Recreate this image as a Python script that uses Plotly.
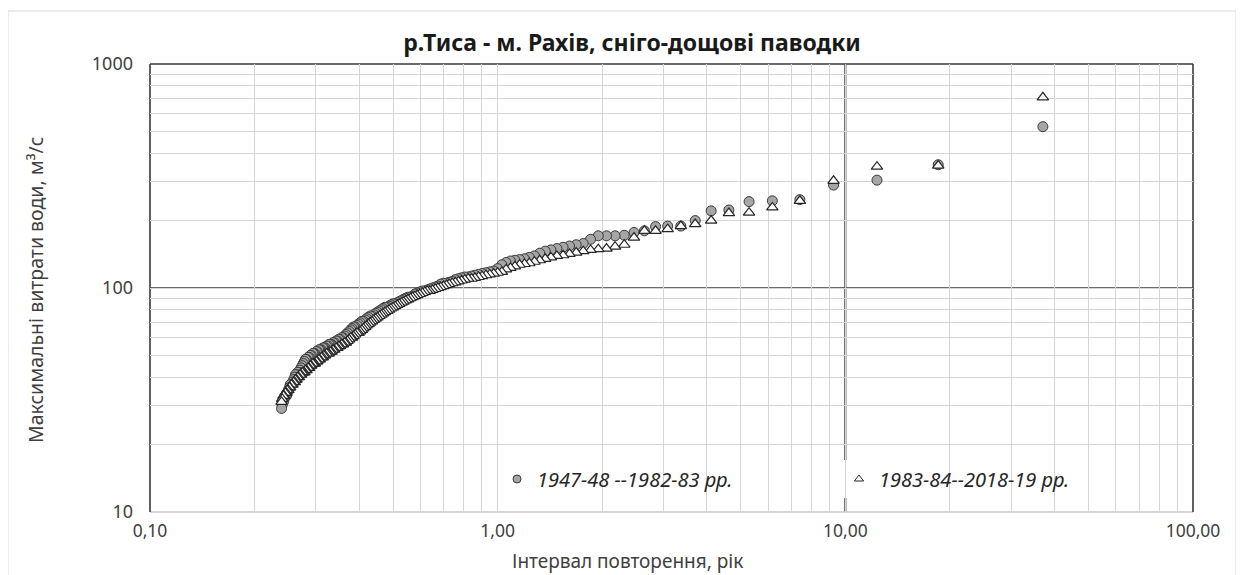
import plotly.graph_objects as go

# Return interval, years (plotting position for each rank)
return_interval = [
    37.000, 18.500, 12.333, 9.250, 7.400, 6.167, 5.286, 4.625, 4.111, 3.700,
    3.364, 3.083, 2.846, 2.643, 2.467, 2.313, 2.176, 2.056, 1.947, 1.850,
    1.762, 1.682, 1.609, 1.542, 1.480, 1.423, 1.370, 1.321, 1.276, 1.233,
    1.194, 1.156, 1.121, 1.088, 1.057, 1.028, 1.000, 0.974, 0.949, 0.925,
    0.902, 0.881, 0.860, 0.841, 0.822, 0.804, 0.787, 0.771, 0.755, 0.740,
    0.725, 0.712, 0.698, 0.685, 0.673, 0.661, 0.649, 0.638, 0.627, 0.617,
    0.607, 0.597, 0.587, 0.578, 0.569, 0.561, 0.552, 0.544, 0.536, 0.529,
    0.521, 0.514, 0.507, 0.500, 0.493, 0.487, 0.481, 0.474, 0.468, 0.463,
    0.457, 0.451, 0.446, 0.440, 0.435, 0.430, 0.425, 0.420, 0.416, 0.411,
    0.407, 0.402, 0.398, 0.394, 0.389, 0.385, 0.381, 0.378, 0.374, 0.370,
    0.366, 0.363, 0.359, 0.356, 0.352, 0.349, 0.346, 0.343, 0.339, 0.336,
    0.333, 0.330, 0.327, 0.325, 0.322, 0.319, 0.316, 0.314, 0.311, 0.308,
    0.306, 0.303, 0.301, 0.298, 0.296, 0.294, 0.291, 0.289, 0.287, 0.285,
    0.282, 0.280, 0.278, 0.276, 0.274, 0.272, 0.270, 0.268, 0.266, 0.264,
    0.262, 0.261, 0.259, 0.257, 0.255, 0.253, 0.252, 0.250, 0.248, 0.247,
    0.245, 0.243, 0.242, 0.240, 0.239,
]

# Max discharge, m3/s, 1947-48 .. 1982-83 (circles)
q_1947_1983 = [
    525, 355, 303, 288, 248, 245, 243, 223, 221, 200,
    189, 189, 188, 180, 177, 172, 171, 171, 171, 165,
    158, 156, 154, 152, 150, 148, 146, 143, 139, 137,
    135, 134, 133, 132, 130, 127, 122, 119, 118, 117,
    116, 115, 114, 113, 112, 112, 111, 110, 109, 107,
    106, 105, 105, 104, 102, 101, 100, 99, 98, 97,
    97, 96, 95, 94, 92, 91, 91, 90, 89, 88,
    87, 86, 85, 85, 84, 83, 82, 82, 81, 80,
    79, 78, 77, 76, 75, 75, 74, 73, 72, 71,
    71, 70, 69, 68, 67, 67, 66, 65, 64, 63,
    62, 61, 60, 60, 59, 59, 58, 58, 57, 57,
    56, 56, 56, 55, 55, 54, 54, 54, 53, 53,
    53, 52, 52, 51, 51, 51, 50, 50, 49, 49,
    48, 48, 47, 46, 45, 44, 43, 42, 42, 41,
    41, 40, 39, 38, 37, 37, 36, 35, 34, 33,
    33, 32, 31, 30, 29,
]

# Max discharge, m3/s, 1983-84 .. 2018-19 (triangles)
q_1983_2019 = [
    710, 352, 348, 301, 245, 229, 217, 216, 200, 193,
    189, 183, 180, 180, 168, 156, 153, 150, 149, 148,
    146, 144, 142, 140, 139, 137, 135, 133, 131, 129,
    128, 127, 125, 123, 121, 118, 117, 116, 115, 114,
    113, 112, 111, 110, 110, 109, 108, 107, 106, 105,
    104, 103, 102, 101, 100, 99, 98, 97, 97, 96,
    95, 94, 93, 92, 91, 90, 89, 88, 87, 86,
    85, 84, 83, 82, 81, 80, 79, 78, 77, 76,
    75, 74, 73, 72, 71, 70, 69, 68, 67, 66,
    65, 64, 63, 63, 62, 61, 60, 60, 59, 58,
    57, 57, 56, 56, 55, 55, 54, 54, 53, 53,
    52, 52, 51, 51, 51, 50, 50, 49, 49, 48,
    48, 47, 47, 46, 46, 46, 45, 45, 44, 44,
    43, 43, 42, 42, 42, 41, 41, 40, 40, 39,
    39, 38, 38, 37, 37, 36, 36, 35, 35, 34,
    34, 33, 33, 32, 31,
]

series_names = ["1947-48 --1982-83 рр.", "1983-84--2018-19 рр."]

x_grid = [m * 10 ** e for e in (-1, 0, 1) for m in range(1, 10)] + [100]
x_text = {0.1: "0,10", 1: "1,00", 10: "10,00", 100: "100,00"}
y_grid = [m * 10 ** e for e in (1, 2) for m in range(1, 10)] + [1000]
y_text = {10: "10", 100: "100", 1000: "1000"}

FONT = "Noto Sans"
OFF = 8                      # page body margin
W, H = 1244 - OFF, 575 - OFF
PL, PR, PT, PB = 150, 1193, 64, 512   # plot area in page pixels
L, R, T, B = PL - OFF, W - (PR - OFF), PT - OFF, H - (PB - OFF)
PW, PH = PR - PL, PB - PT


def px(xp):
    return (xp - PL) / PW


def py(yp):
    return (PB - yp) / PH


fig = go.Figure()

circle_marker = dict(symbol="circle", size=10, color="#a6a6a6",
                     line=dict(color="#3a3a3a", width=1))
tri_marker = dict(symbol="triangle-up", size=10, color="white",
                  line=dict(color="#262626", width=1.2))

fig.add_trace(go.Scatter(x=return_interval, y=q_1947_1983, mode="markers",
                         marker=circle_marker, showlegend=False,
                         name=series_names[0]))
fig.add_trace(go.Scatter(x=return_interval, y=q_1983_2019, mode="markers",
                         marker=tri_marker, showlegend=False,
                         name=series_names[1]))
# legend entries with smaller symbols
fig.add_trace(go.Scatter(x=[None], y=[None], mode="markers", name=series_names[0],
                         marker=dict(symbol="circle", size=8, color="#a6a6a6",
                                     line=dict(color="#3a3a3a", width=1))))
fig.add_trace(go.Scatter(x=[None], y=[None], mode="markers", name=series_names[1],
                         marker=dict(symbol="triangle-up", size=8, color="white",
                                     line=dict(color="#262626", width=1))))

dark = "#3a3a3a"
grid = "#d6d6d6"
shapes = [
    dict(type="line", xref="x", yref="paper", x0=10, x1=10, y0=0, y1=1,
         line=dict(color="#2e2e2e", width=2), layer="between"),
    dict(type="line", xref="paper", yref="y", x0=0, x1=1, y0=100, y1=100,
         line=dict(color=dark, width=1.6), layer="between"),
    dict(type="rect", xref="paper", yref="paper", x0=px(385), x1=1,
         y0=py(498), y1=py(460), fillcolor="white", line=dict(width=0),
         layer="between"),
    dict(type="line", xref="paper", yref="paper", x0=0, x1=1, y0=0, y1=0,
         line=dict(color="#c8c8c8", width=1.5), layer="between"),
    dict(type="line", xref="paper", yref="paper", x0=0, x1=0, y0=0, y1=1,
         line=dict(color=dark, width=1.6), layer="between"),
    dict(type="line", xref="paper", yref="paper", x0=0, x1=1, y0=1, y1=1,
         line=dict(color=dark, width=1.6), layer="between"),
    dict(type="line", xref="paper", yref="paper", x0=1, x1=1, y0=0, y1=1,
         line=dict(color=dark, width=1.6), layer="between"),
    dict(type="rect", xref="paper", yref="paper", x0=px(8), x1=px(1236),
         y0=py(600), y1=py(11), line=dict(color="#d9d9d9", width=1),
         fillcolor="rgba(0,0,0,0)", layer="below"),
]

fig.update_layout(
    width=W, height=H,
    margin=dict(l=L, r=R, t=T, b=B, autoexpand=False),
    paper_bgcolor="white", plot_bgcolor="white",
    font=dict(family=FONT, color="#404040", size=17),
    title=dict(text="<b>р.Тиса - м. Рахів, сніго-дощові паводки</b>",
               x=px(632), xanchor="center", xref="paper",
               y=1 - (43 - OFF) / H, yanchor="middle",
               font=dict(family=FONT, size=23, color="#1a1a1a")),
    xaxis=dict(type="log", range=[-1, 2], tickvals=x_grid,
               ticktext=[x_text.get(v, "") for v in x_grid],
               showgrid=True, gridcolor=grid, gridwidth=1.3,
               showline=False, zeroline=False, ticks="",
               ticklabelstandoff=6,
               tickfont=dict(family=FONT, size=17.5, color="#404040")),
    yaxis=dict(type="log", range=[1, 3], tickvals=y_grid,
               ticktext=[y_text.get(v, "") for v in y_grid],
               showgrid=True, gridcolor=grid, gridwidth=1.3,
               showline=False, zeroline=False, ticks="",
               ticklabelstandoff=16,
               tickfont=dict(family=FONT, size=18, color="#404040")),
    legend=dict(orientation="h", x=px(497), xanchor="left",
                y=py(479), yanchor="middle", bgcolor="rgba(0,0,0,0)",
                entrywidth=297, entrywidthmode="pixels",
                font=dict(family=FONT, size=20, color="#262626", style="italic"),
                itemwidth=30),
    shapes=shapes,
    annotations=[
        dict(text="Інтервал повторення, рік", xref="paper", yref="paper",
             x=px(627), y=py(561), xanchor="center", yanchor="middle",
             showarrow=False, font=dict(family=FONT, size=19, color="#404040")),
        dict(text="Максимальні витрати води, м³/с", xref="paper", yref="paper",
             x=px(35), y=py(290), xanchor="center", yanchor="middle",
             textangle=-90, showarrow=False,
             font=dict(family=FONT, size=19.5, color="#404040")),
    ],
)

fig.write_html("out.html")
